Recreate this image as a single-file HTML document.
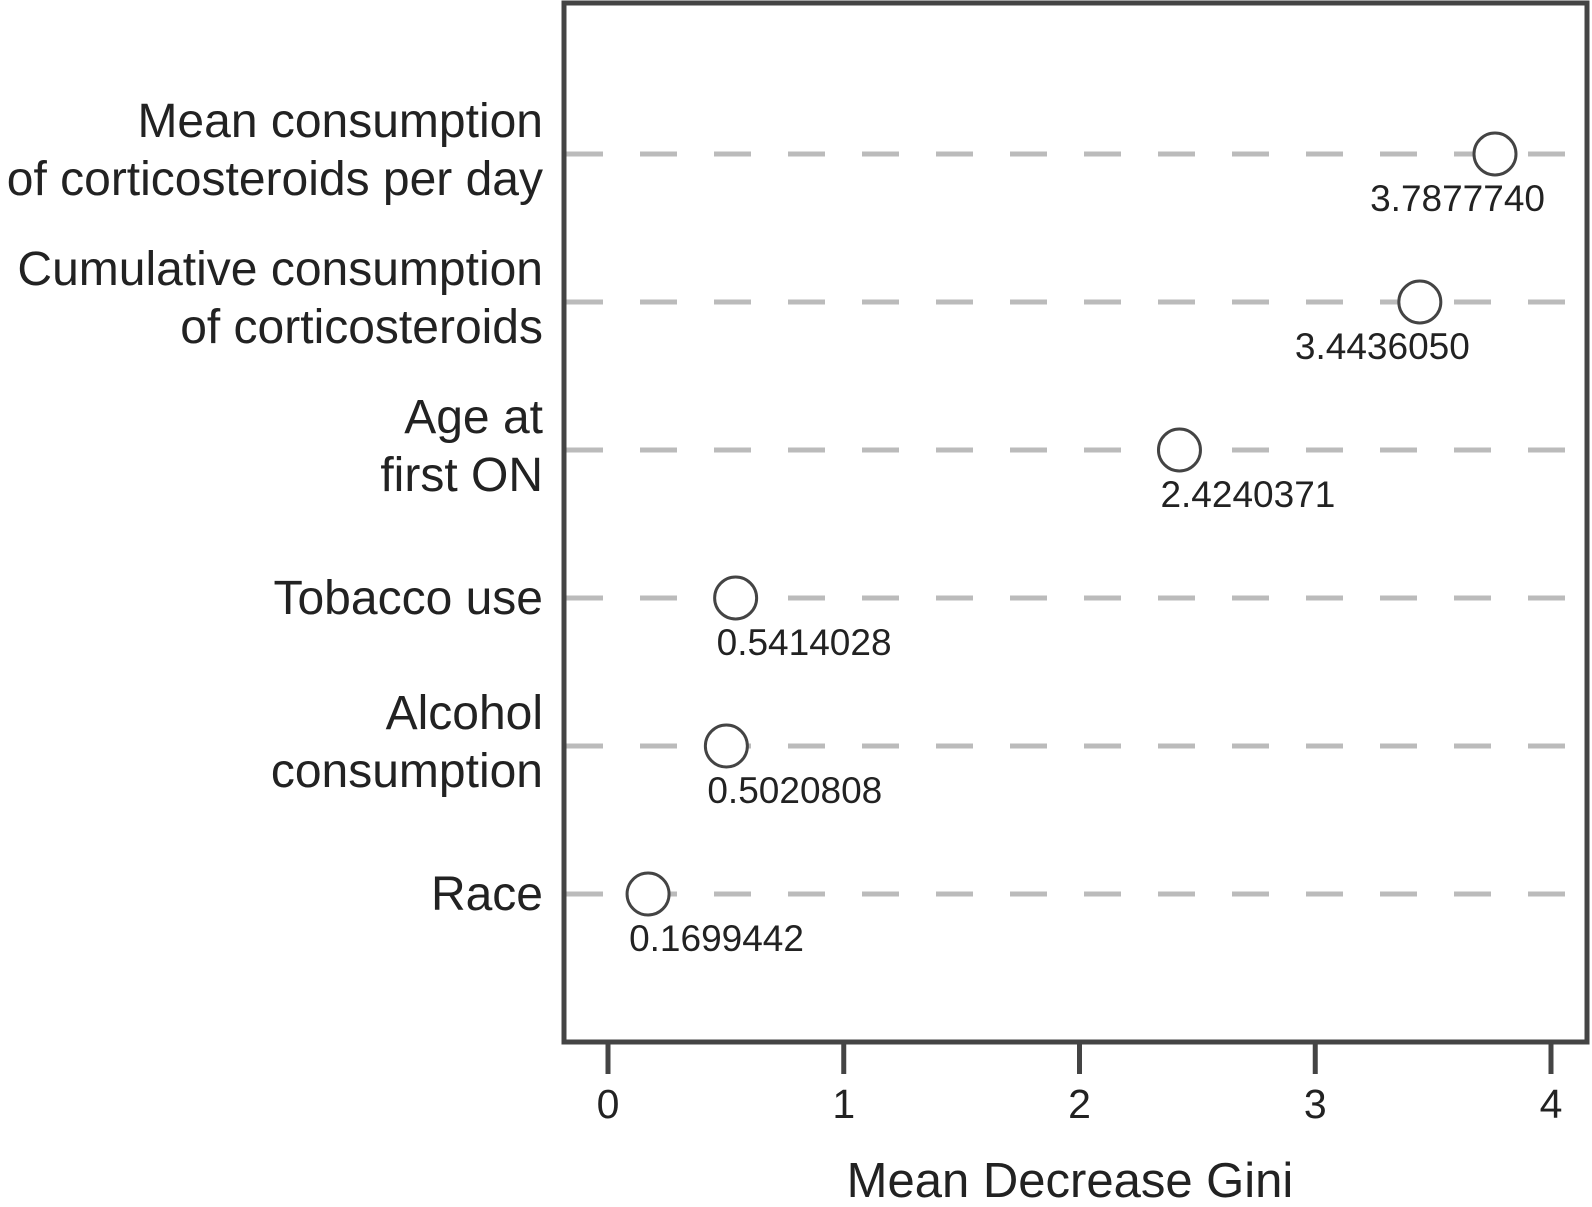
<!DOCTYPE html>
<html><head><meta charset="utf-8"><style>
html,body{margin:0;padding:0;background:#fff;}
svg{display:block;font-family:"Liberation Sans",Arial,sans-serif;}
</style></head><body>
<svg id="chart" width="1592" height="1207" viewBox="0 0 1592 1207">
<g id="grid"></g>
<rect x="564" y="3" width="1023" height="1039" fill="none" stroke="#444" stroke-width="5"/>
<g id="xaxis"></g>
<g id="ylabels"></g>
<g id="points"></g>
<text x="1070" y="1197" font-size="49" text-anchor="middle" fill="#222">Mean Decrease Gini</text>
</svg>
<script>
const categories = [["Mean consumption","of corticosteroids per day"],["Cumulative consumption","of corticosteroids"],["Age at","first ON"],["Tobacco use"],["Alcohol","consumption"],["Race"]];
const values = [3.7877740, 3.4436050, 2.4240371, 0.5414028, 0.5020808, 0.1699442];
const valueLabels = ["3.7877740","3.4436050","2.4240371","0.5414028","0.5020808","0.1699442"];
const xTicks = [0,1,2,3,4];

const NS="http://www.w3.org/2000/svg";
const x0=608, x1=1551, xMax=4;
function xScale(v){return x0+(x1-x0)*v/xMax;}
const rowTop=154, rowBottom=894;
function yScale(i){return rowTop+(rowBottom-rowTop)*i/(categories.length-1);}
function mk(tag,attrs,parent){const e=document.createElementNS(NS,tag);for(const k in attrs)e.setAttribute(k,attrs[k]);parent.appendChild(e);return e;}
const grid=document.getElementById('grid'),xa=document.getElementById('xaxis'),yl=document.getElementById('ylabels'),pts=document.getElementById('points');

categories.forEach((c,i)=>{
  const y=yScale(i);
  const l=mk('line',{x1:566,x2:1585,y1:y,y2:y,stroke:'#bbb','stroke-width':5,'stroke-dasharray':'37 37'},grid);
  
  
  const t=mk('text',{x:543,'text-anchor':'end','font-size':48,fill:'#222'},yl);
  
  
  if(c.length===1){t.setAttribute('y',y+16);t.textContent=c[0];}
  else{c.forEach((s,j)=>{const ts=mk('tspan',{x:543,y:y-33+j*58+16},t);ts.textContent=s;});}
});
values.forEach((v,i)=>{
  const cx=Math.min(xScale(v),1495), y=yScale(i);
  const c=mk('circle',{cx:cx,cy:y,r:21,fill:'#fff',stroke:'#444','stroke-width':3},pts);
  
  
  const nearEdge = cx>1300;
  const t=mk('text',{x:nearEdge?cx+50:cx-19,y:y+57,'font-size':37,'text-anchor':nearEdge?'end':'start',fill:'#222'},pts);
  
  
  t.textContent=valueLabels[i];
});
xTicks.forEach(v=>{
  const x=xScale(v);
  const l=mk('line',{x1:x,x2:x,y1:1044,y2:1074,stroke:'#444','stroke-width':5},xa);
  
  
  const t=mk('text',{x:x,y:1118,'font-size':41,'text-anchor':'middle',fill:'#222'},xa);
  
  
  t.textContent=v;
});
</script>
</body></html>
